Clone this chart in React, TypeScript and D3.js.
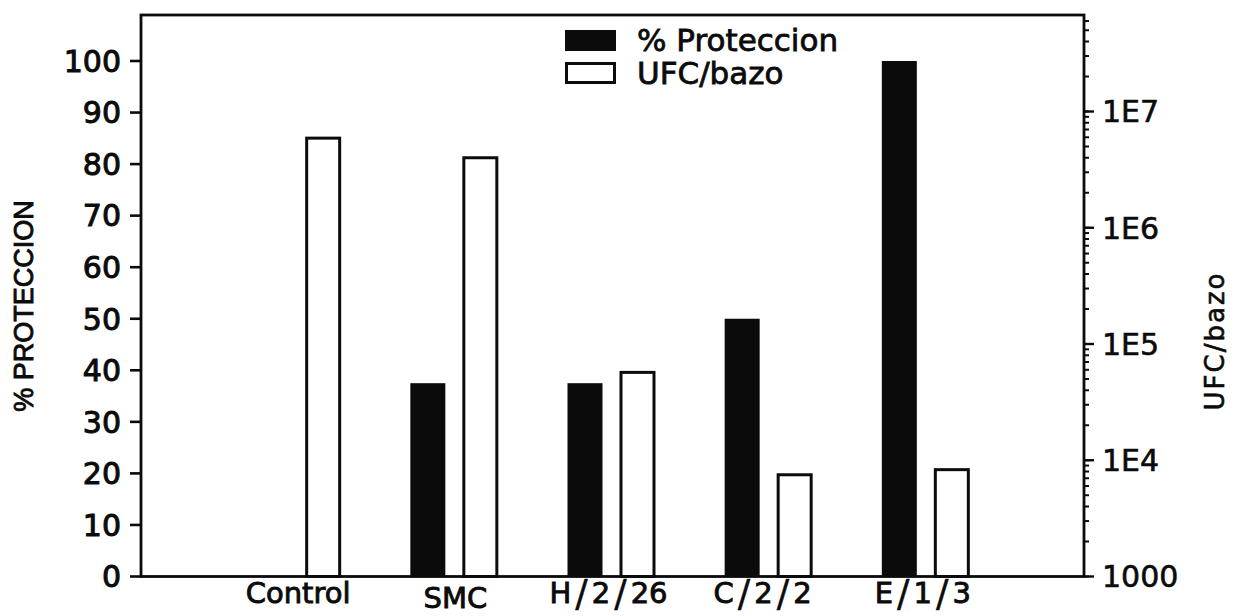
import React from "react";
import * as d3 from "d3";

// Groups and the two measured series
const categories = ["Control", "SMC", "H/2/26", "C/2/2", "E/1/3"];
const proteccion = [0, 37.5, 37.5, 50, 100]; // % protección (left axis)
const ufcBazo = [5.9e6, 4.0e6, 5.7e4, 7.5e3, 8.3e3]; // UFC/bazo (right, log axis)

// Axis ticks
const leftTicks = [0, 10, 20, 30, 40, 50, 60, 70, 80, 90, 100];
const rightTicks = [1000, 1e4, 1e5, 1e6, 1e7];
const rightTickLabels = ["1000", "1E4", "1E5", "1E6", "1E7"];

const legendLabels = ["% Proteccion", "UFC/bazo"];
const leftTitle = "% PROTECCION";
const rightTitle = "UFC/bazo";

// Layout
const W = 1240;
const H = 616;
const X0 = 141;
const X1 = 1084;
const Y0 = 576.5;
const YTOP = 15;
const INK = "#0b0b0b";
const FONT = "'DejaVu Sans', Verdana, sans-serif";

const x = d3.scalePoint<string>().domain(categories).range([X0, X1]).padding(1);
const yLeft = d3.scaleLinear().domain([0, 100]).range([Y0, 61]);
const yRight = d3.scaleLog().domain([1000, 1e7]).range([Y0, 111.5]);
const yRightFull = d3.scaleLog().domain([1000, yRight.invert(YTOP)]).range([Y0, YTOP]);
const minorTicks = yRightFull.ticks().filter((t) => t <= yRight.invert(YTOP));

// Category labels: "SMC" sits a little lower than the others
const labelDy: Record<string, number> = { SMC: 5 };
const labelDx: Record<string, number> = { "H/2/26": -4, "C/2/2": -7, "E/1/3": -4 };

function CategoryLabel({ name }: { name: string }) {
  const cx = (x(name) ?? 0) + (labelDx[name] ?? 0);
  const parts = name.split("/");
  const y = 603 + (labelDy[name] ?? 0);
  return (
    <text
      x={cx}
      y={y}
      textAnchor="middle"
      fontFamily={FONT}
      fontSize={29}
      fill={INK}
      stroke={INK}
      strokeWidth={0.9}
    >
      {parts.map((p, i) => (
        <React.Fragment key={i}>
          {i > 0 && (
            <tspan fontSize={37} dx={4} dy={3} strokeWidth={0.4}>
              /
            </tspan>
          )}
          <tspan dx={i > 0 ? 4 : 0} dy={i > 0 ? -3 : 0}>
            {p}
          </tspan>
        </React.Fragment>
      ))}
    </text>
  );
}

export default function App() {
  const bw = 35;
  return (
    <svg
      width={W}
      height={H}
      viewBox={`0 0 ${W} ${H}`}
      style={{ position: "absolute", left: 0, top: 0, background: "#fff" }}
    >
      <rect x={0} y={0} width={W} height={H} fill="#fff" />

      {/* bars: filled = % protección, open = UFC/bazo */}
      {categories.map((c, i) => {
        const cx = x(c) ?? 0;
        const yp = yLeft(proteccion[i]);
        const yu = yRight(ufcBazo[i]);
        return (
          <g key={c}>
            {proteccion[i] > 0 && (
              <rect x={cx - 45} y={yp} width={bw} height={Y0 - yp} fill={INK} />
            )}
            <rect
              x={cx + 8.5}
              y={yu}
              width={33}
              height={Y0 - yu}
              fill="#fff"
              stroke={INK}
              strokeWidth={3}
            />
          </g>
        );
      })}

      {/* frame */}
      <rect
        x={X0}
        y={YTOP}
        width={X1 - X0}
        height={Y0 - YTOP}
        fill="none"
        stroke={INK}
        strokeWidth={2.8}
      />

      {/* left axis */}
      {leftTicks.map((t) => (
        <g key={t}>
          <line x1={130} x2={X0} y1={yLeft(t)} y2={yLeft(t)} stroke={INK} strokeWidth={2.6} />
          <text
            x={121}
            y={yLeft(t)}
            dy="0.36em"
            textAnchor="end"
            fontFamily={FONT}
            fontSize={30}
            fill={INK}
            stroke={INK}
            strokeWidth={1}
          >
            {t}
          </text>
        </g>
      ))}

      {/* right log axis */}
      {minorTicks.map((t, i) => (
        <line
          key={"m" + i}
          x1={X1}
          x2={X1 + 5}
          y1={yRightFull(t)}
          y2={yRightFull(t)}
          stroke={INK}
          strokeWidth={2}
        />
      ))}
      {rightTicks.map((t, i) => (
        <g key={"M" + t}>
          <line x1={X1} x2={X1 + 10} y1={yRight(t)} y2={yRight(t)} stroke={INK} strokeWidth={2.4} />
          <text
            x={1102}
            y={yRight(t)}
            dy="0.36em"
            fontFamily={FONT}
            fontSize={30}
            fill={INK}
            stroke={INK}
            strokeWidth={0.6}
          >
            {rightTickLabels[i]}
          </text>
        </g>
      ))}

      {/* category labels */}
      {categories.map((c) => (
        <CategoryLabel key={c} name={c} />
      ))}

      {/* axis titles */}
      <text
        transform="translate(33,306) rotate(-90)"
        textAnchor="middle"
        fontFamily="'Liberation Sans', Arial, sans-serif"
        fontSize={27}
        fill={INK}
        stroke={INK}
        strokeWidth={0.9}
      >
        {leftTitle}
      </text>
      <text
        transform="translate(1224,341) rotate(-90)"
        textAnchor="middle"
        fontFamily={FONT}
        fontSize={26}
        letterSpacing={2}
        fill={INK}
        stroke={INK}
        strokeWidth={0.6}
      >
        {rightTitle}
      </text>

      {/* legend */}
      <rect x={565} y={30} width={51} height={21} fill={INK} />
      <rect x={566.5} y={63.5} width={48} height={19} fill="#fff" stroke={INK} strokeWidth={3} />
      {legendLabels.map((l, i) => (
        <text
          key={l}
          x={637}
          y={51 + i * 33}
          fontFamily={FONT}
          fontSize={31}
          fill={INK}
          stroke={INK}
          strokeWidth={0.8}
        >
          {l}
        </text>
      ))}
    </svg>
  );
}
